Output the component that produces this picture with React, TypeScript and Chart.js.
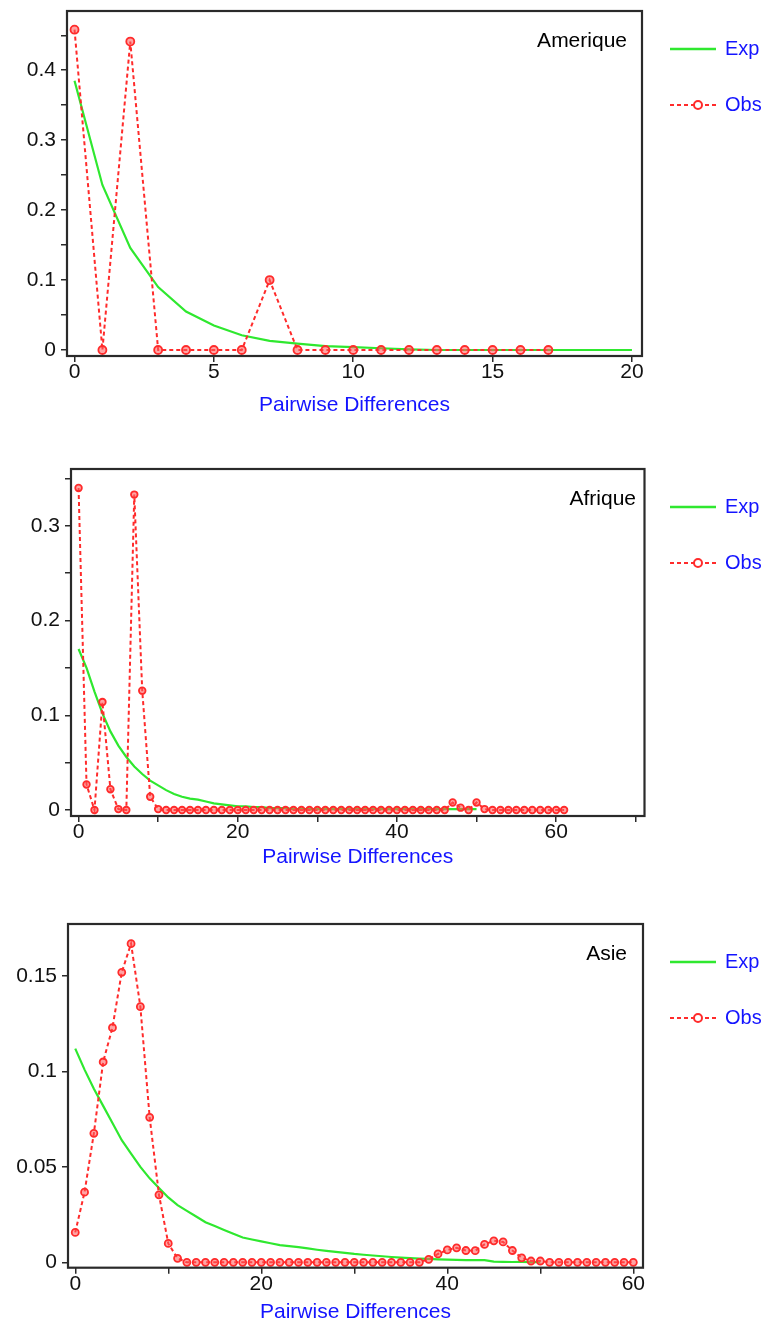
import React, { useEffect, useRef } from "react";
import { Chart, registerables } from "chart.js";

Chart.register(...registerables);

// ---------- Data ----------
// Amerique
const AMER_OBS_X = [0, 1, 2, 3, 4, 5, 6, 7, 8, 9, 10, 11, 12, 13, 14, 15, 16, 17];
const AMER_OBS = [0.458, 0, 0.441, 0, 0, 0, 0, 0.1, 0, 0, 0, 0, 0, 0, 0, 0, 0, 0];
const AMER_EXP_X = [0, 1, 2, 3, 4, 5, 6, 7, 8, 9, 10, 11, 12, 13, 14, 15, 16, 17, 18, 19, 20];
const AMER_EXP = [0.385, 0.236, 0.146, 0.09, 0.055, 0.035, 0.021, 0.013, 0.009, 0.0055, 0.004, 0.0025, 0.001, 0, 0, 0, 0, 0, 0, 0, 0];
const AMER_X_TICKS = [0, 5, 10, 15, 20];
const AMER_X_LABELS = [0, 5, 10, 15, 20];
const AMER_Y_TICKS = [0, 0.05, 0.1, 0.15, 0.2, 0.25, 0.3, 0.35, 0.4, 0.45];
const AMER_Y_LABELS = [0, 0.1, 0.2, 0.3, 0.4];

// Afrique
const AFR_OBS_X = [
  0, 1, 2, 3, 4, 5, 6, 7, 8, 9, 10, 11, 12, 13, 14, 15, 16, 17, 18, 19, 20,
  21, 22, 23, 24, 25, 26, 27, 28, 29, 30, 31, 32, 33, 34, 35, 36, 37, 38, 39, 40,
  41, 42, 43, 44, 45, 46, 47, 48, 49, 50, 51, 52, 53, 54, 55, 56, 57, 58, 59, 60, 61,
];
const AFR_OBS = [
  0.34, 0.027, 0, 0.114, 0.022, 0.001, 0, 0.333, 0.126, 0.014, 0.001,
  0, 0, 0, 0, 0, 0, 0, 0, 0, 0,
  0, 0, 0, 0, 0, 0, 0, 0, 0, 0,
  0, 0, 0, 0, 0, 0, 0, 0, 0, 0,
  0, 0, 0, 0, 0, 0, 0.008, 0.0025, 0, 0.008,
  0.001, 0, 0, 0, 0, 0, 0, 0, 0, 0, 0,
];
const AFR_EXP_X = [
  0, 1, 2, 3, 4, 5, 6, 7, 8, 9, 10, 11, 12, 13, 14, 15, 16, 17, 18, 19, 20,
  21, 22, 23, 24, 25, 26, 27, 28, 29, 30, 31, 32, 33, 34, 35, 36, 37, 38, 39, 40,
  41, 42, 43, 44, 45, 46, 47, 48, 49, 50,
];
const AFR_EXP = [
  0.17, 0.15, 0.125, 0.102, 0.083, 0.068, 0.056, 0.046, 0.038, 0.031, 0.026,
  0.021, 0.017, 0.014, 0.012, 0.011, 0.009, 0.007, 0.006, 0.005, 0.004,
  0.004, 0.003, 0.003, 0.002, 0.002, 0.002, 0.001, 0.001, 0.001, 0.001,
  0.001, 0.001, 0.001, 0.001, 0.001, 0.001, 0.001, 0.001, 0.001, 0.001,
  0.001, 0.001, 0.001, 0.001, 0.001, 0.001, 0.001, 0.001, 0.001, 0.001,
];
const AFR_X_TICKS = [0, 10, 20, 30, 40, 50, 60, 70];
const AFR_X_LABELS = [0, 20, 40, 60];
const AFR_Y_TICKS = [0, 0.05, 0.1, 0.15, 0.2, 0.25, 0.3, 0.35];
const AFR_Y_LABELS = [0, 0.1, 0.2, 0.3];

// Asie
const ASIE_OBS_X = [
  0, 1, 2, 3, 4, 5, 6, 7, 8, 9, 10, 11, 12, 13, 14, 15, 16, 17, 18, 19, 20,
  21, 22, 23, 24, 25, 26, 27, 28, 29, 30, 31, 32, 33, 34, 35, 36, 37, 38, 39, 40,
  41, 42, 43, 44, 45, 46, 47, 48, 49, 50, 51, 52, 53, 54, 55, 56, 57, 58, 59, 60,
];
const ASIE_OBS = [
  0.0157, 0.0368, 0.0676, 0.105, 0.123, 0.152, 0.167, 0.134, 0.076, 0.0354, 0.0099,
  0.0021, 0, 0, 0, 0, 0, 0, 0, 0, 0,
  0, 0, 0, 0, 0, 0, 0, 0, 0, 0,
  0, 0, 0, 0, 0, 0, 0, 0.0016, 0.0044, 0.0065,
  0.0076, 0.0062, 0.0061, 0.0094, 0.0113, 0.0107, 0.0062, 0.0024, 0.0007, 0.0007,
  0, 0, 0, 0, 0, 0, 0, 0, 0, 0,
];
const ASIE_EXP_X = [
  0, 1, 2, 3, 4, 5, 6, 7, 8, 9, 10, 11, 12, 13, 14, 15, 16, 17, 18, 19, 20,
  21, 22, 23, 24, 25, 26, 27, 28, 29, 30, 31, 32, 33, 34, 35, 36, 37, 38, 39, 40,
  41, 42, 43, 44, 45, 46, 47, 48, 49, 50,
];
const ASIE_EXP = [
  0.112, 0.101, 0.091, 0.082, 0.073, 0.064, 0.057, 0.05, 0.044, 0.039, 0.034,
  0.03, 0.027, 0.024, 0.021, 0.019, 0.017, 0.015, 0.013, 0.012, 0.011,
  0.01, 0.009, 0.0085, 0.008, 0.0073, 0.0066, 0.006, 0.0055, 0.005, 0.0044,
  0.004, 0.0036, 0.0032, 0.0028, 0.0025, 0.0022, 0.002, 0.0018, 0.0016, 0.0014,
  0.0013, 0.0012, 0.0012, 0.0012, 0.0004, 0.0003, 0.0002, 0.0002, 0.0001, 0.0001,
];
const ASIE_X_TICKS = [0, 10, 20, 30, 40, 50, 60];
const ASIE_X_LABELS = [0, 20, 40, 60];
const ASIE_Y_TICKS = [0, 0.05, 0.1, 0.15];
const ASIE_Y_LABELS = [0, 0.05, 0.1, 0.15];

const X_TITLE = "Pairwise Differences";
const SERIES_EXP = "Exp";
const SERIES_OBS = "Obs";

// ---------- Styles ----------
const FONT = "'Liberation Sans', Arial, Helvetica, sans-serif";
const RED = "#ff2b2b";
const RED_FILL = "rgba(255,90,90,0.55)";
const GREEN = "#2fe82f";
const BLUE = "#1414ff";
const AXIS = "#2a2a2a";

type PanelCfg = {
  name: string;
  obsX: number[];
  obs: number[];
  expX: number[];
  exp: number[];
  xTicks: number[];
  xLabels: number[];
  yTicks: number[];
  yLabels: number[];
  xMin: number;
  xMax: number;
  yMin: number;
  yMax: number;
  canvasTop: number;
  canvasH: number;
  areaTop: number; // local
  areaBottom: number; // local
  areaLeft: number;
  areaRight: number;
  titleOffset: number;
  nameRight: number;
  pointR: number;
};

const PANELS: PanelCfg[] = [
  {
    name: "Amerique",
    obsX: AMER_OBS_X, obs: AMER_OBS, expX: AMER_EXP_X, exp: AMER_EXP,
    xTicks: AMER_X_TICKS, xLabels: AMER_X_LABELS, yTicks: AMER_Y_TICKS, yLabels: AMER_Y_LABELS,
    xMin: -0.27, xMax: 20.36, yMin: -0.0086, yMax: 0.4847,
    canvasTop: 0, canvasH: 440, areaTop: 11, areaBottom: 356, areaLeft: 67, areaRight: 642,
    titleOffset: 49, nameRight: 627, pointR: 4,
  },
  {
    name: "Afrique",
    obsX: AFR_OBS_X, obs: AFR_OBS, expX: AFR_EXP_X, exp: AFR_EXP,
    xTicks: AFR_X_TICKS, xLabels: AFR_X_LABELS, yTicks: AFR_Y_TICKS, yLabels: AFR_Y_LABELS,
    xMin: -0.95, xMax: 71.1, yMin: -0.0063, yMax: 0.36,
    canvasTop: 440, canvasH: 440, areaTop: 29, areaBottom: 376, areaLeft: 71, areaRight: 644.5,
    titleOffset: 41, nameRight: 636, pointR: 3.3,
  },
  {
    name: "Asie",
    obsX: ASIE_OBS_X, obs: ASIE_OBS, expX: ASIE_EXP_X, exp: ASIE_EXP,
    xTicks: ASIE_X_TICKS, xLabels: ASIE_X_LABELS, yTicks: ASIE_Y_TICKS, yLabels: ASIE_Y_LABELS,
    xMin: -0.78, xMax: 61.04, yMin: -0.0028, yMax: 0.1773,
    canvasTop: 880, canvasH: 445, areaTop: 44, areaBottom: 387.7, areaLeft: 68, areaRight: 643,
    titleOffset: 45, nameRight: 627, pointR: 3.5,
  },
];

const TITLE_SIZE = 21;
const TICK_SIZE = 21;

function fmt(v: number) {
  return String(Number(v.toFixed(4)));
}

function makePanelPlugin(cfg: PanelCfg) {
  return {
    id: "panelDecor",
    afterDraw(chart: any) {
      const { ctx, chartArea } = chart;
      const { left, top, right, bottom } = chartArea;
      ctx.save();
      // frame
      ctx.strokeStyle = AXIS;
      ctx.lineWidth = 2.2;
      ctx.setLineDash([]);
      ctx.strokeRect(left, top, right - left, bottom - top);
      // panel name
      ctx.fillStyle = "#000";
      ctx.font = `21px ${FONT}`;
      ctx.textAlign = "right";
      ctx.textBaseline = "middle";
      ctx.fillText(cfg.name, cfg.nameRight, top + 30);
      // legend
      const yExp = top + 38;
      const yObs = top + 94;
      ctx.strokeStyle = GREEN;
      ctx.lineWidth = 2.5;
      ctx.beginPath();
      ctx.moveTo(670, yExp);
      ctx.lineTo(716, yExp);
      ctx.stroke();
      ctx.strokeStyle = RED;
      ctx.lineWidth = 2;
      ctx.setLineDash([4, 3]);
      ctx.beginPath();
      ctx.moveTo(670, yObs);
      ctx.lineTo(718, yObs);
      ctx.stroke();
      ctx.setLineDash([]);
      ctx.beginPath();
      ctx.arc(698, yObs, 4, 0, Math.PI * 2);
      ctx.fillStyle = "#fff";
      ctx.fill();
      ctx.lineWidth = 2;
      ctx.stroke();
      ctx.fillStyle = BLUE;
      ctx.font = `20px ${FONT}`;
      ctx.textAlign = "left";
      ctx.fillText(SERIES_EXP, 725, yExp);
      ctx.fillText(SERIES_OBS, 725, yObs);
      ctx.restore();
    },
  };
}

function Panel({ cfg }: { cfg: PanelCfg }) {
  const ref = useRef<HTMLCanvasElement>(null);
  useEffect(() => {
    const canvas = ref.current;
    if (!canvas) return;
    const xScaleH = cfg.titleOffset + TITLE_SIZE / 2;
    const padBottom = cfg.canvasH - cfg.areaBottom - xScaleH;
    const chart = new Chart(canvas, {
      type: "line",
      data: {
        datasets: [
          {
            label: SERIES_OBS,
            data: cfg.obsX.map((x, i) => ({ x, y: cfg.obs[i] })),
            borderColor: RED,
            borderWidth: 2,
            borderDash: [4, 3],
            pointRadius: cfg.pointR,
            pointBorderWidth: 1.8,
            pointBorderColor: RED,
            pointBackgroundColor: RED_FILL,
            tension: 0,
            fill: false,
          },
          {
            label: SERIES_EXP,
            data: cfg.expX.map((x, i) => ({ x, y: cfg.exp[i] })),
            borderColor: GREEN,
            borderWidth: 2.2,
            pointRadius: 0,
            tension: 0,
            fill: false,
          },
        ],
      },
      options: {
        responsive: false,
        animation: false,
        devicePixelRatio: 1,
        layout: {
          padding: {
            top: cfg.areaTop,
            left: 0,
            right: 768 - cfg.areaRight,
            bottom: padBottom,
          },
        },
        plugins: {
          legend: { display: false },
          tooltip: { enabled: false },
        },
        scales: {
          x: {
            type: "linear",
            position: "bottom",
            min: cfg.xMin,
            max: cfg.xMax,
            afterBuildTicks: (s: any) => {
              s.ticks = cfg.xTicks.map((v) => ({ value: v }));
            },
            afterFit: (s: any) => {
              s.height = xScaleH;
              s.paddingLeft = 0;
              s.paddingRight = 0;
            },
            grid: {
              drawOnChartArea: false,
              drawTicks: true,
              tickLength: 6,
              color: AXIS,
              lineWidth: 1.5,
            },
            border: { display: false },
            ticks: {
              autoSkip: false,
              maxRotation: 0,
              padding: -2,
              color: "#111",
              font: { size: TICK_SIZE, family: FONT },
              callback: (v: any) => (cfg.xLabels.includes(v) ? fmt(v) : ""),
            },
            title: {
              display: true,
              text: X_TITLE,
              color: BLUE,
              font: { size: TITLE_SIZE, family: FONT, lineHeight: 1 },
              padding: 0,
            },
          },
          y: {
            type: "linear",
            position: "left",
            min: cfg.yMin,
            max: cfg.yMax,
            afterBuildTicks: (s: any) => {
              s.ticks = cfg.yTicks.map((v) => ({ value: v }));
            },
            afterFit: (s: any) => {
              s.width = cfg.areaLeft;
              s.paddingTop = 0;
              s.paddingBottom = 0;
            },
            grid: {
              drawOnChartArea: false,
              drawTicks: true,
              tickLength: 6,
              color: AXIS,
              lineWidth: 1.5,
            },
            border: { display: false },
            ticks: {
              autoSkip: false,
              padding: 5,
              color: "#111",
              font: { size: TICK_SIZE, family: FONT },
              callback: (v: any) => (cfg.yLabels.includes(v) ? fmt(v) : ""),
            },
          },
        },
      },
      plugins: [makePanelPlugin(cfg)],
    } as any);
    return () => chart.destroy();
  }, [cfg]);
  return (
    <canvas
      ref={ref}
      width={768}
      height={cfg.canvasH}
      style={{
        position: "absolute",
        left: 0,
        top: cfg.canvasTop,
        width: 768,
        height: cfg.canvasH,
        display: "block",
      }}
    />
  );
}

export default function App() {
  return (
    <div
      style={{
        position: "absolute",
        left: 0,
        top: 0,
        width: 768,
        height: 1325,
        background: "#fff",
        overflow: "hidden",
      }}
    >
      {PANELS.map((p) => (
        <Panel key={p.name} cfg={p} />
      ))}
    </div>
  );
}
